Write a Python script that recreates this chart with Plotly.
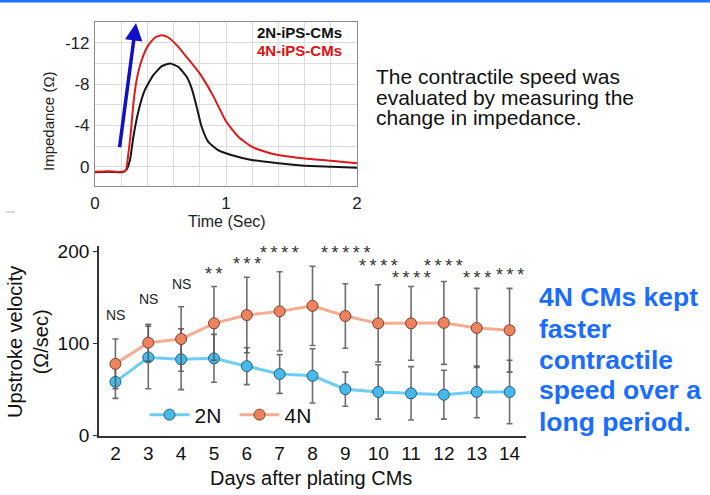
import plotly.graph_objects as go

W, H = 710, 495
FONT = "Liberation Sans, Arial, Helvetica, sans-serif"

# ---------------- data: impedance traces (top panel) ----------------
t_2n = [0, 0.1, 0.2, 0.22, 0.24, 0.267, 0.293, 0.33, 0.38, 0.445, 0.51, 0.573, 0.636,
        0.70, 0.738, 0.776, 0.814, 0.865, 0.94, 1.04, 1.196, 1.4, 1.6, 1.81, 2.0]
imp_2n = [0.55, 0.5, 0.55, 0.5, 0.3, -0.65, -2.9, -5.3, -7.4, -8.86, -9.73, -9.99, -9.66,
          -8.7, -7.57, -5.8, -3.86, -2.4, -1.6, -1.13, -0.65, -0.33, -0.1, 0.0, 0.1]
t_4n = [0, 0.1, 0.2, 0.235, 0.255, 0.275, 0.293, 0.318, 0.356, 0.407, 0.458, 0.509, 0.56,
        0.636, 0.7, 0.8, 0.9, 1.0, 1.094, 1.196, 1.3, 1.4, 1.6, 1.8, 2.0]
imp_4n = [0.5, 0.45, 0.5, 0.35, -1.3, -3.55, -6.1, -8.4, -10.3, -11.76, -12.5, -12.72, -12.5,
          -11.6, -10.6, -9.0, -6.9, -4.4, -2.9, -1.93, -1.45, -1.13, -0.8, -0.58, -0.33]
top_xticks = [0, 1, 2]
top_yticks = [-12, -8, -4, 0]
top_yticktext = ["-12", "-8", "-4", "0"]

# ---------------- data: upstroke velocity (bottom panel) ----------------
days = [2, 3, 4, 5, 6, 7, 8, 9, 10, 11, 12, 13, 14]
vel_2n = [58.5, 85, 83, 84, 75.5, 67, 65, 50.5, 47.5, 46, 44.5, 47.5, 47.5]
err_2n = [18, 34, 33, 26, 20, 21, 29.5, 18.5, 29.5, 29, 26.5, 28, 34.5]
vel_4n = [78, 101, 105, 122, 131, 135, 141, 130, 122, 122, 122.5, 117, 114.5]
err_4n = [27, 20, 35, 40, 41, 43, 43, 35, 42, 40, 45, 43, 45.5]
sig_labels = ["NS", "NS", "NS", "**", "***", "****", "", "*****", "****", "****", "****", "***", "***"]
bottom_yticks = [0, 100, 200]

# label heights (layout positions, in axis units)
sig_y = [131, 148, 165, 176, 186, 198, 0, 198, 184, 171, 184, 171, 174]


def px(x):
    return x / W


def py(y):
    return 1 - y / H


fig = go.Figure()

# top panel traces
fig.add_trace(go.Scatter(x=t_2n, y=imp_2n, mode="lines", line=dict(color="#161616", width=2, shape="spline", smoothing=0.5),
                         xaxis="x", yaxis="y", showlegend=False))
fig.add_trace(go.Scatter(x=t_4n, y=imp_4n, mode="lines", line=dict(color="#dd1a1a", width=2, shape="spline", smoothing=0.5),
                         xaxis="x", yaxis="y", showlegend=False))

# bottom panel traces
ebar = dict(color="rgba(85,85,85,0.85)", thickness=1.6, width=3)
fig.add_trace(go.Scatter(x=days, y=vel_2n, name="2N", mode="lines+markers",
                         error_y=dict(type="data", array=err_2n, visible=True, **ebar),
                         line=dict(color="rgb(110,205,245)", width=3),
                         marker=dict(size=11, color="rgb(70,185,232)", line=dict(color="rgb(40,95,135)", width=1)),
                         xaxis="x2", yaxis="y2"))
fig.add_trace(go.Scatter(x=days, y=vel_4n, name="4N", mode="lines+markers",
                         error_y=dict(type="data", array=err_4n, visible=True, **ebar),
                         line=dict(color="rgb(246,172,145)", width=3),
                         marker=dict(size=11, color="rgb(236,130,95)", line=dict(color="rgb(130,65,45)", width=1)),
                         xaxis="x2", yaxis="y2"))

annotations = []

# top-panel axis titles and legend text
annotations.append(dict(text="Time (Sec)", x=px(227), y=py(221), xref="paper", yref="paper",
                        showarrow=False, font=dict(size=16, color="#222"), xanchor="center", yanchor="middle"))
annotations.append(dict(text="Impedance (Ω)", x=px(48), y=py(121), xref="paper", yref="paper", textangle=-90,
                        showarrow=False, font=dict(size=15, color="#222"), xanchor="center", yanchor="middle"))
annotations.append(dict(text="<b>2N-iPS-CMs</b>", x=px(344), y=py(33), xref="paper", yref="paper",
                        showarrow=False, font=dict(size=15, color="#111"), xanchor="right", yanchor="middle"))
annotations.append(dict(text="<b>4N-iPS-CMs</b>", x=px(344), y=py(50.5), xref="paper", yref="paper",
                        showarrow=False, font=dict(size=15, color="#e01010"), xanchor="right", yanchor="middle"))
# blue arrow
annotations.append(dict(x=0.313, y=-13.9, ax=0.186, ay=-1.73, xref="x", yref="y", axref="x", ayref="y",
                        text="", showarrow=True, arrowhead=2, arrowsize=1, arrowwidth=3.5, arrowcolor="#1010c8",
                        standoff=0))

# description text (top right)
desc = ["The contractile speed was", "evaluated by measuring the", "change in impedance."]
desc_y = [76, 97, 118]
for s, yy in zip(desc, desc_y):
    annotations.append(dict(text=s, x=px(374), y=py(yy), xref="paper", yref="paper", showarrow=False,
                            font=dict(size=21, color="#111"), xanchor="left", yanchor="middle"))

# blue message
msg = ["4N CMs kept", "faster", "contractile", "speed over a", "long period."]
msg_y = [297, 328.5, 360, 390, 421.5]
for s, yy in zip(msg, msg_y):
    annotations.append(dict(text="<b>%s</b>" % s, x=px(537), y=py(yy), xref="paper", yref="paper", showarrow=False,
                            font=dict(size=26.5, color="#1a6dff"), xanchor="left", yanchor="middle"))

# bottom axis titles
annotations.append(dict(text="Days after plating CMs", x=px(311), y=py(478), xref="paper", yref="paper",
                        showarrow=False, font=dict(size=20, color="#111"), xanchor="center", yanchor="middle"))
annotations.append(dict(text="Upstroke velocity<br>(Ω/sec)", x=px(28), y=py(342), xref="paper", yref="paper",
                        textangle=-90, showarrow=False, font=dict(size=20, color="#111"),
                        xanchor="center", yanchor="middle"))

# significance labels
for d, lab, yy in zip(days, sig_labels, sig_y):
    if not lab:
        continue
    if lab == "NS":
        annotations.append(dict(text=lab, x=d, y=yy, xref="x2", yref="y2", showarrow=False,
                                font=dict(size=14, color="#222"), xanchor="center", yanchor="middle"))
    else:
        annotations.append(dict(text="\u2009".join(lab), x=d, y=yy, xref="x2", yref="y2", showarrow=False,
                                font=dict(size=18, color="#333"), xanchor="center", yanchor="middle"))

shapes = [
    dict(type="rect", xref="paper", yref="paper", x0=0, x1=1, y0=py(2.6), y1=1,
         fillcolor="#1e72ff", line=dict(width=0)),
    dict(type="line", xref="paper", yref="paper", x0=px(6), x1=px(15), y0=py(212), y1=py(212),
         line=dict(color="#cfcfcf", width=1.5)),
]

fig.update_layout(
    width=W, height=H,
    margin=dict(l=0, r=0, t=0, b=0, autoexpand=False),
    paper_bgcolor="white", plot_bgcolor="white",
    font=dict(family=FONT, color="#111"),
    annotations=annotations,
    shapes=shapes,
    xaxis=dict(domain=[px(95), px(357)], range=[0, 2], tickvals=top_xticks, showgrid=True,
               gridcolor="#dcdcdc", gridwidth=1.3, zeroline=False, showline=True, mirror=True,
               linecolor="#8a8a8a", linewidth=1.2, ticks="", ticklabelstandoff=1,
               tickfont=dict(size=17, color="#222"),
               minor=dict(dtick=0.2, tick0=0, showgrid=True, gridcolor="#dcdcdc", gridwidth=1.3),
               anchor="y", automargin=False),
    yaxis=dict(domain=[py(186), py(21.7)], range=[1.87, -14.03], tickvals=top_yticks, ticktext=top_yticktext,
               showgrid=True, gridcolor="#dcdcdc", gridwidth=1.3, zeroline=False, showline=True, mirror=True,
               linecolor="#8a8a8a", linewidth=1.2, ticks="", ticklabelstandoff=1,
               tickfont=dict(size=17, color="#222"),
               minor=dict(dtick=2, tick0=0, showgrid=True, gridcolor="#dcdcdc", gridwidth=1.3),
               anchor="x", automargin=False),
    xaxis2=dict(domain=[px(99), px(526)], range=[1.5, 14.5], tickvals=days, showgrid=False, zeroline=False,
                showline=True, linecolor="#333", linewidth=1.8, ticks="", ticklabelstandoff=0,
                tickfont=dict(size=19, color="#111"), anchor="y2", automargin=False),
    yaxis2=dict(domain=[py(435.7), py(246)], range=[0, 206], tickvals=bottom_yticks, showgrid=False,
                zeroline=False, showline=True, linecolor="#333", linewidth=1.8, ticks="outside",
                ticklen=4, tickcolor="#333", tickfont=dict(size=19, color="#111"), anchor="x2", automargin=False),
    legend=dict(orientation="h", x=px(144.5), y=py(415), xanchor="left", yanchor="middle",
                bgcolor="rgba(0,0,0,0)", font=dict(size=21, color="#111"), itemwidth=40,
                entrywidth=35, entrywidthmode="pixels"),
)

fig.write_html("out.html", config={"displayModeBar": False},
               post_script="document.body.style.margin='0';document.body.style.overflow='hidden';")
